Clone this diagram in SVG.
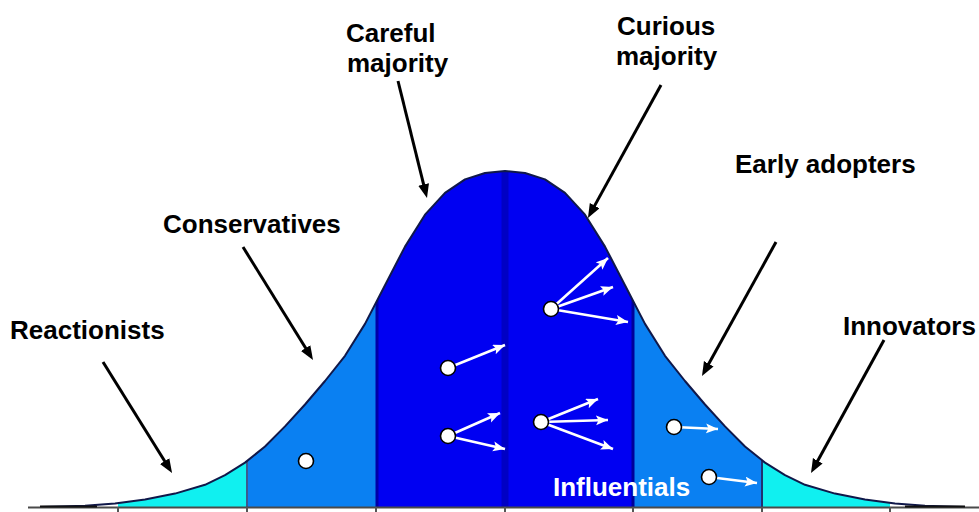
<svg xmlns="http://www.w3.org/2000/svg" width="979" height="512" viewBox="0 0 979 512">
<style>
.lbl{font-family:"Liberation Sans",Arial,sans-serif;font-weight:bold;font-size:26px;fill:#000}
.wl{fill:#fff}
.bk{stroke:#000;stroke-width:3;fill:none;marker-end:url(#bh)}
.wh{stroke:#fff;stroke-width:2.6;fill:none;marker-end:url(#wh)}
.dot{fill:#fff;stroke:#000;stroke-width:1.6}
.tick{stroke:#555;stroke-width:2}
</style>
<defs>
<marker id="bh" markerUnits="userSpaceOnUse" markerWidth="16" markerHeight="12" refX="2" refY="5.5" orient="auto">
<path d="M0,0 L14,5.5 L0,11 z" fill="#000"/>
</marker>
<marker id="wh" markerUnits="userSpaceOnUse" markerWidth="15" markerHeight="12" refX="12" refY="5" orient="auto">
<path d="M0,0 L12,5 L0,10 L2.5,5 z" fill="#fff"/>
</marker>
<path id="curve" d="M40,507 L85,505.7 L115,503.6 L145,499.6 L175,493.6 L205,484.8 L225,475.1 L245,462.6 L265,446.5 L285,426.4 L305,404.5 L325,381 L345,355.8 L365,323.9 L385,285.2 L405,246.6 L425,214.7 L445,192.8 L465,179.4 L485,173 L505,171 L525,173 L545,179.4 L565,192.8 L585,214.7 L605,246.6 L625,285.2 L645,323.9 L665,355.8 L685,381 L705,404.5 L725,426.4 L745,446.5 L765,462.6 L785,475.1 L805,484.8 L835,493.6 L865,499.6 L895,503.6 L925,505.7 L965,507"/>
<clipPath id="bell"><use href="#curve"/></clipPath>
</defs>
<rect width="979" height="512" fill="#fff"/>
<g id="bellcurve">
<g clip-path="url(#bell)">
<rect x="118" y="160" width="129" height="348" fill="#10f0f0"/>
<rect x="247" y="160" width="129" height="348" fill="#0a80f2"/>
<rect x="376" y="160" width="257" height="348" fill="#0000f2"/>
<rect x="633" y="160" width="129" height="348" fill="#0a80f2"/>
<rect x="762" y="160" width="128" height="348" fill="#10f0f0"/>
<line x1="247" y1="160" x2="247" y2="508" stroke="#3a5a90" stroke-width="2"/>
<line x1="377" y1="160" x2="377" y2="508" stroke="#0000a8" stroke-width="3"/>
<line x1="505" y1="160" x2="505" y2="508" stroke="#0000c4" stroke-width="7"/>
<line x1="633" y1="160" x2="633" y2="508" stroke="#00009a" stroke-width="3"/>
<line x1="762" y1="160" x2="762" y2="508" stroke="#203070" stroke-width="2"/>
</g>
<use href="#curve" fill="none" stroke="#10184a" stroke-width="2" stroke-linejoin="round"/>
<line x1="28" y1="507.5" x2="979" y2="507.5" stroke="#4a4a4a" stroke-width="2"/>
<line x1="40" y1="506.5" x2="97" y2="506.5" stroke="#111" stroke-width="2"/>
<line x1="905" y1="506.5" x2="965" y2="506.5" stroke="#111" stroke-width="2"/>
<line class="tick" x1="118" y1="507" x2="118" y2="512"/>
<line class="tick" x1="247" y1="507" x2="247" y2="512"/>
<line class="tick" x1="376" y1="507" x2="376" y2="512"/>
<line class="tick" x1="505" y1="507" x2="505" y2="512"/>
<line class="tick" x1="633" y1="507" x2="633" y2="512"/>
<line class="tick" x1="762" y1="507" x2="762" y2="512"/>
<line class="tick" x1="890" y1="507" x2="890" y2="512"/>
</g>
<g id="connectors">
<line class="bk" x1="398" y1="81" x2="424.1" y2="186.4"/>
<line class="bk" x1="661" y1="85" x2="593.7" y2="207.4"/>
<line class="bk" x1="243" y1="247" x2="306.7" y2="349.8"/>
<line class="bk" x1="103" y1="362" x2="165.7" y2="462.8"/>
<line class="bk" x1="776" y1="242" x2="707.8" y2="365.5"/>
<line class="bk" x1="884" y1="340" x2="816.8" y2="462.5"/>
<line class="wh" x1="448" y1="368" x2="505" y2="345"/>
<line class="wh" x1="448" y1="436" x2="500" y2="413"/>
<line class="wh" x1="448" y1="436" x2="505" y2="449"/>
<line class="wh" x1="541" y1="422" x2="598" y2="399"/>
<line class="wh" x1="541" y1="422" x2="608" y2="420"/>
<line class="wh" x1="541" y1="422" x2="613" y2="449"/>
<line class="wh" x1="551" y1="309" x2="608" y2="258"/>
<line class="wh" x1="551" y1="309" x2="613" y2="287"/>
<line class="wh" x1="551" y1="309" x2="628" y2="322"/>
<line class="wh" x1="674" y1="427" x2="718" y2="429"/>
<line class="wh" x1="709" y1="477" x2="757" y2="483"/>
</g>
<g id="dots">
<circle class="dot" cx="306" cy="461" r="7.5"/>
<circle class="dot" cx="448" cy="368" r="7.5"/>
<circle class="dot" cx="448" cy="436" r="7.5"/>
<circle class="dot" cx="541" cy="422" r="7.5"/>
<circle class="dot" cx="551" cy="309" r="7.5"/>
<circle class="dot" cx="674" cy="427" r="7.5"/>
<circle class="dot" cx="709" cy="477" r="7.5"/>
</g>
<g id="careful"><text class="lbl" x="346" y="42">Careful</text><text class="lbl" x="347" y="72">majority</text></g>
<g id="curious"><text class="lbl" x="617" y="35">Curious</text><text class="lbl" x="616" y="65">majority</text></g>
<g id="conservatives"><text class="lbl" x="163" y="233">Conservatives</text></g>
<g id="reactionists"><text class="lbl" x="10" y="339">Reactionists</text></g>
<g id="early"><text class="lbl" x="735" y="173">Early adopters</text></g>
<g id="innovators"><text class="lbl" x="843" y="335">Innovators</text></g>
<g id="influentials"><text class="lbl wl" x="553" y="496">Influentials</text></g>
</svg>
